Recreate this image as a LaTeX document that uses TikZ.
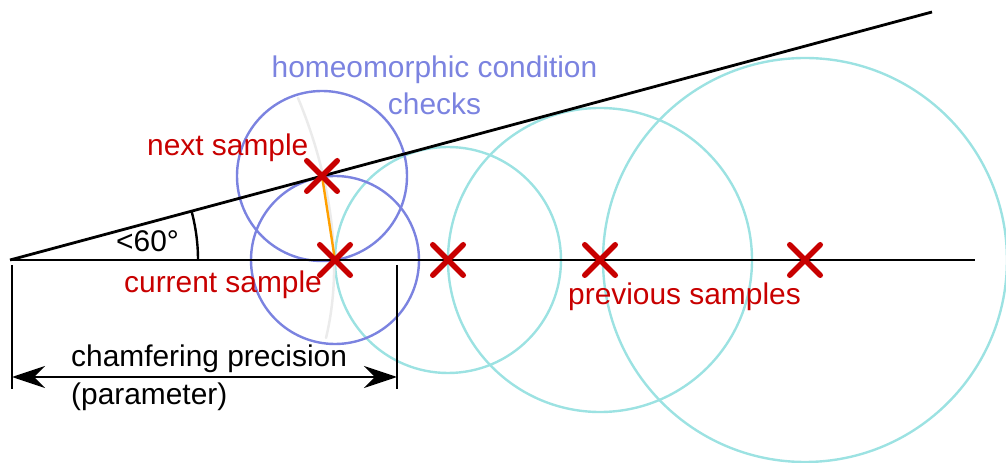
\documentclass[tikz,border=0pt]{standalone}
\usepackage{fontspec}
\setmainfont{Liberation Sans}
\usetikzlibrary{arrows.meta,shapes.misc}
\definecolor{xred}{HTML}{C80000}
\definecolor{cblue}{HTML}{7B83E0}
\definecolor{ccyan}{HTML}{9CE2E2}
\definecolor{corange}{HTML}{FFA000}
\tikzset{
  lbl/.style={font=\fontsize{30}{34}\selectfont, inner sep=0pt},
  xmark/.style={cross out, draw=xred, line width=5.5bp, minimum size=25bp, inner sep=0pt, line cap=round},
  bluecirc/.style={draw=cblue, line width=2.4bp},
  cyancirc/.style={draw=ccyan, line width=2.4bp},
  mainline/.style={draw=black, line width=2.8bp},
  dimarrow/.style={>={Stealth[length=33bp,width=22bp,inset=11bp]}, <->},
}
\begin{document}
\begin{tikzpicture}[x=1bp,y=-1bp]
\useasboundingbox (0,0) rectangle (1006,463);
% points
\coordinate (O) at (10,260);
\coordinate (E) at (975,260);
\coordinate (T) at (932,12);
\coordinate (cur) at (335,260);
\coordinate (nxt) at (322,176);
\coordinate (p1) at (448,260);
\coordinate (p2) at (600,260);
\coordinate (p3) at (805,260);
% cyan circles
\draw[cyancirc] (p1) circle[radius=113];
\draw[cyancirc] (p2) circle[radius=152];
\draw[cyancirc] (p3) circle[radius=202];
% blue circles
\draw[bluecirc] (cur) circle[radius=84];
\draw[bluecirc] (nxt) circle[radius=85];
% faint gray curve
\draw[black!8, line width=2.5bp, line cap=round] (298,98) .. controls (326,165) and (346,255) .. (326,338);
% lines
\draw[mainline] (O) -- (E);
\draw[mainline] (O) -- (T);
\draw[black, line width=2.4bp] (O) ++(188,0) arc[start angle=0, end angle=-15.05, radius=188];
% orange segment
\draw[corange, line width=2.4bp] (cur) -- (nxt);
% crosses
\node[xmark] (xc) at (cur) {};
\node[xmark] (xn) at (nxt) {};
\node[xmark] (x1) at (p1) {};
\node[xmark] (x2) at (p2) {};
\node[xmark] (x3) at (p3) {};
% dimension
\coordinate (dl1) at (12,265);
\coordinate (dl2) at (12,389);
\coordinate (dr1) at (397,265);
\coordinate (dr2) at (397,389);
\coordinate (al) at (12,377);
\coordinate (ar) at (397,377);
\draw[black, line width=2.6bp] (dl1) -- (dl2);
\draw[black, line width=2.6bp] (dr1) -- (dr2);
\draw[black, line width=2.6bp, dimarrow] (al) -- (ar);
% labels
\node[lbl, text=cblue, anchor=base] (h1) at (434.5,78) {homeomorphic condition};
\node[lbl, text=cblue, anchor=base] (h2) at (434.5,115) {checks};
\node[lbl, text=xred, anchor=base west] (ns) at (147,156) {next sample};
\node[lbl, text=xred, anchor=base west] (cs) at (124,293) {current sample};
\node[lbl, text=xred, anchor=base west] (ps) at (568,305) {previous samples};
\node[lbl, anchor=base west] (ang) at (116,252) {<60°};
\node[lbl, anchor=base west] (cp) at (71,367) {chamfering precision};
\node[lbl, anchor=base west] (pa) at (71,404) {(parameter)};
\end{tikzpicture}
\end{document}
